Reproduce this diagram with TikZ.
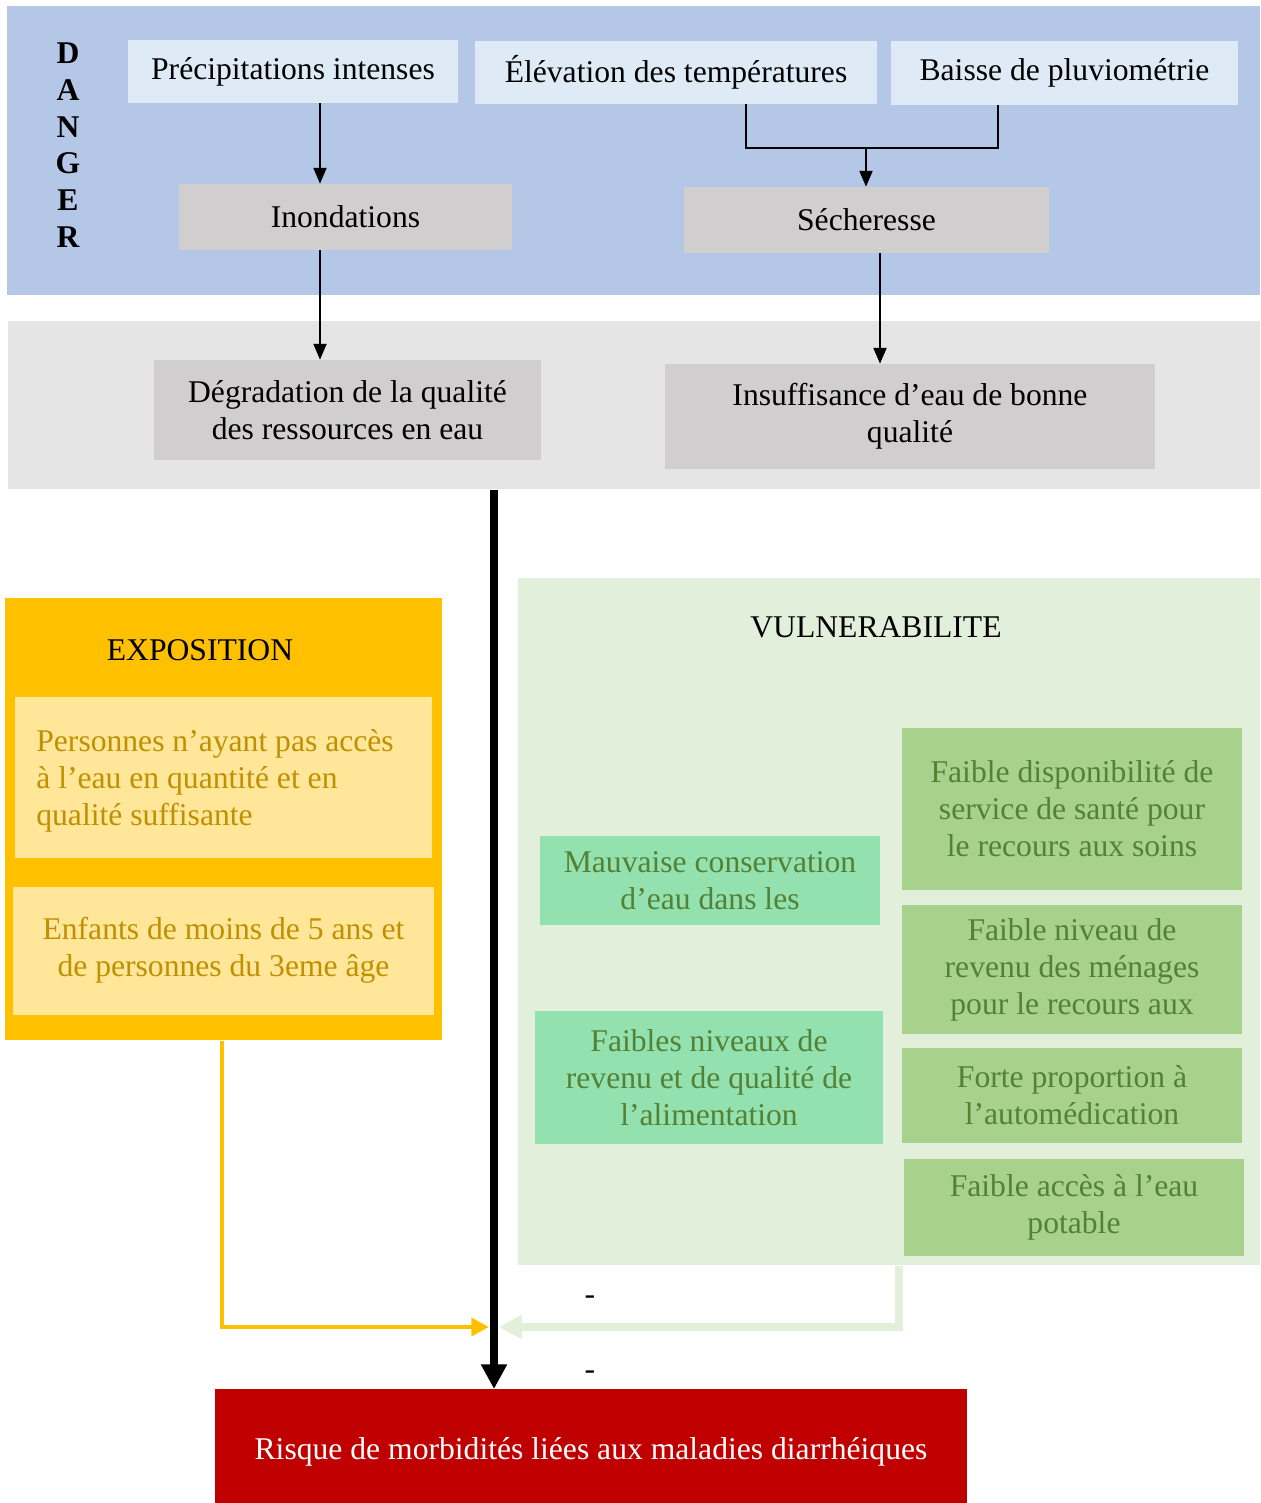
\documentclass[tikz,border=0pt]{standalone}
\usepackage{fontspec}
\setmainfont{Liberation Serif}
\usetikzlibrary{arrows.meta}
\definecolor{dangerblue}{HTML}{B4C7E7}
\definecolor{lightblue}{HTML}{DEEBF7}
\definecolor{graybox}{HTML}{D0CECE}
\definecolor{graypanel}{HTML}{E5E5E5}
\definecolor{expoorange}{HTML}{FFC000}
\definecolor{expolight}{HTML}{FFE699}
\definecolor{goldtext}{HTML}{BF9000}
\definecolor{vulnpanel}{HTML}{E2EFDA}
\definecolor{mintbox}{HTML}{93E1AE}
\definecolor{greenbox}{HTML}{A9D18E}
\definecolor{greentext}{HTML}{538135}
\definecolor{riskred}{HTML}{C00000}
\begin{document}
\begin{tikzpicture}[x=0.02cm,y=-0.02cm,
  every node/.style={font=\fontsize{18}{21}\selectfont, inner sep=0pt},
  panel/.style={fill=#1, draw=none, anchor=north west},
  box/.style={fill=#1, draw=none, align=center},
  thinarr/.style={line width=0.8pt, -{Triangle[length=9pt,width=7.5pt]}},
  bigarr/.style={line width=4pt, -{Triangle[length=14pt,width=14pt]}},
  orangearr/.style={draw=expoorange, line width=2.8pt, -{Triangle[length=10pt,width=10pt]}},
  greenarr/.style={draw=vulnpanel, line width=4.8pt, -{Triangle[length=13pt,width=13pt]}},
  dletter/.style={font=\fontsize{18}{21}\selectfont\bfseries},
]
\useasboundingbox (0,0) rectangle (1260,1503);

% panels
\node[panel=dangerblue, minimum width=25.06cm, minimum height=5.78cm] (dpanel) at (7,6) {};
\node[panel=graypanel, minimum width=25.04cm, minimum height=3.36cm] (gpanel) at (8,321) {};
\node[panel=expoorange, minimum width=8.74cm, minimum height=8.84cm] (expo) at (5,598) {};
\node[panel=vulnpanel, minimum width=14.84cm, minimum height=13.74cm] (vuln) at (518,578) {};

% DANGER letters
\node[dletter] (dD) at (68,53) {D};
\node[dletter] (dA) at (68,90) {A};
\node[dletter] (dN) at (68,127) {N};
\node[dletter] (dG) at (68,163) {G};
\node[dletter] (dE) at (68,200) {E};
\node[dletter] (dR) at (68,237) {R};

% danger boxes
\node[box=lightblue, minimum width=6.60cm, minimum height=1.26cm] (prec) at (293,71.5) {\raisebox{-3pt}{Précipitations intenses}};
\node[box=lightblue, minimum width=8.04cm, minimum height=1.26cm] (elev) at (676,72.5) {\raisebox{-2pt}{Élévation des températures}};
\node[box=lightblue, minimum width=6.94cm, minimum height=1.28cm] (baisse) at (1064.5,73) {\raisebox{-3pt}{Baisse de pluviométrie}};
\node[box=graybox, minimum width=6.66cm, minimum height=1.32cm] (inond) at (345.5,217) {\raisebox{-1pt}{Inondations}};
\node[box=graybox, minimum width=7.30cm, minimum height=1.32cm] (sech) at (866.5,220) {\raisebox{-1pt}{Sécheresse}};

% consequence boxes
\node[box=graybox, minimum width=7.74cm, minimum height=2.00cm] (degr) at (347.5,410) {Dégradation de la qualité\\des ressources en eau};
\node[box=graybox, minimum width=9.80cm, minimum height=2.10cm] (insuf) at (910,416.5) {Insuffisance d’eau de bonne\\qualité};

% exposition
\node (expot) at (200,650) {EXPOSITION};
\node[box=expolight, minimum width=8.34cm, minimum height=3.22cm] (e1) at (223.5,777.5) {};
\node[anchor=west, align=left, text=goldtext] (e1t) at (36,781) {Personnes n’ayant pas accès\\à l’eau en quantité et en\\qualité suffisante};
\node[box=expolight, minimum width=8.42cm, minimum height=2.56cm, text=goldtext] (e2) at (223.5,951) {\raisebox{-3pt}{\begin{tabular}{@{}c@{}}Enfants de moins de 5 ans et\\de personnes du 3eme âge\end{tabular}}};

% vulnerabilite
\node (vulnt) at (876,627) {VULNERABILITE};
\node[box=mintbox, minimum width=6.80cm, minimum height=1.78cm, text=greentext] (m1) at (710,880.5) {Mauvaise conservation\\d’eau dans les};
\node[box=mintbox, minimum width=6.96cm, minimum height=2.66cm, text=greentext] (m2) at (709,1077.5) {Faibles niveaux de\\revenu et de qualité de\\l’alimentation};
\node[box=greenbox, minimum width=6.80cm, minimum height=3.24cm, text=greentext] (g1) at (1072,809) {Faible disponibilité de\\service de santé pour\\le recours aux soins};
\node[box=greenbox, minimum width=6.80cm, minimum height=2.58cm, text=greentext] (g2) at (1072,969.5) {Faible niveau de\\revenu des ménages\\pour le recours aux};
\node[box=greenbox, minimum width=6.80cm, minimum height=1.90cm, text=greentext] (g3) at (1072,1095.5) {Forte proportion à\\l’automédication};
\node[box=greenbox, minimum width=6.80cm, minimum height=1.94cm, text=greentext] (g4) at (1074,1207.5) {Faible accès à l’eau\\potable};

% risk
\node[panel=riskred, minimum width=15.04cm, minimum height=2.28cm] (risk) at (215,1389) {};
\node[text=white] (riskt) at (591,1452) {Risque de morbidités liées aux maladies diarrhéiques};

% dashes
\node (dash1) at (590,1300) {-};
\node (dash2) at (590,1375) {-};

% coordinates
\coordinate (cp) at (320,0);
\coordinate (cs) at (880,0);
\coordinate (ce) at (746,148);
\coordinate (cb) at (998,148);
\coordinate (jn) at (866,148);
\coordinate (cx) at (494,0);
\coordinate (ox) at (222,0);
\coordinate (otip) at (489,1327);
\coordinate (gx) at (899,0);
\coordinate (gtip) at (499,1327);

% thin arrows
\draw[thinarr] (prec.south -| cp) -- (inond.north -| cp);
\draw[line width=0.8pt] (elev.south -| ce) -- (ce) -- (cb) -- (baisse.south -| cb);
\draw[thinarr] (jn) -- (sech.north -| jn);
\draw[thinarr] (inond.south -| cp) -- (degr.north -| cp);
\draw[thinarr] (sech.south -| cs) -- (insuf.north -| cs);

% exposition and vulnerability links
\draw[orangearr] (expo.south -| ox) |- (otip);
\draw[greenarr] (vuln.south -| gx) |- (gtip);

% main arrow
\draw[bigarr] (gpanel.south -| cx) -- (risk.north -| cx);
\end{tikzpicture}
\end{document}
